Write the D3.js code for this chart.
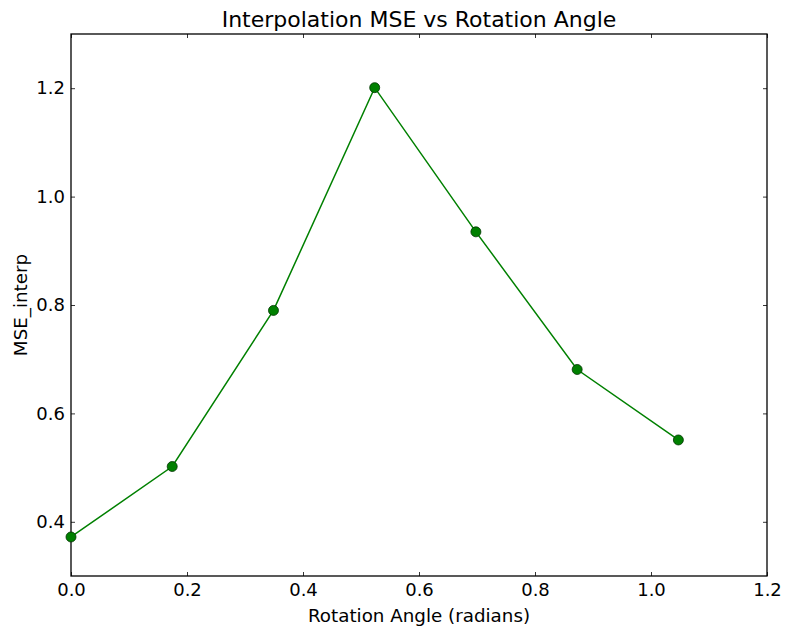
<!DOCTYPE html>
<html><head><meta charset="utf-8">
<script src="https://cdn.jsdelivr.net/npm/d3@7"></script>
<style>body{margin:0;background:#fff;} svg{display:block;}</style>
</head><body>
<svg id="c" width="785" height="631"></svg>
<script>
const angles = [0, 0.1745, 0.3491, 0.5236, 0.6981, 0.8727, 1.0472];
const mse = [0.372, 0.502, 0.790, 1.201, 0.935, 0.681, 0.551];
const xTicks = [0.0, 0.2, 0.4, 0.6, 0.8, 1.0, 1.2];
const yTicks = [0.4, 0.6, 0.8, 1.0, 1.2];

const svg = d3.select("#c");
const m = {l: 71, r: 767, t: 34, b: 576};
const x = d3.scaleLinear().domain([0, 1.2]).range([m.l, m.r]);
const y = d3.scaleLinear().domain([0.3, 1.3]).range([m.b, m.t]);
const font = "DejaVu Sans";

svg.append("rect").attr("x", m.l).attr("y", m.t).attr("width", m.r - m.l).attr("height", m.b - m.t)
  .attr("fill", "none").attr("stroke", "#000").attr("stroke-width", 1.3);

const fmt = d3.format(".1f");
const axB = d3.axisBottom(x).tickValues(xTicks).tickFormat(fmt).tickSizeInner(-4).tickSizeOuter(0).tickPadding(7);
const axT = d3.axisTop(x).tickValues(xTicks).tickFormat("").tickSizeInner(-4).tickSizeOuter(0);
const axL = d3.axisLeft(y).tickValues(yTicks).tickFormat(fmt).tickSizeInner(0).tickSizeOuter(0).tickPadding(6);
const axR = d3.axisRight(y).tickValues(yTicks).tickFormat("").tickSizeInner(-4).tickSizeOuter(0);

function style(g) {
  g.select(".domain").remove();
  g.selectAll("line").attr("stroke", "#000").attr("stroke-width", 0.8);
  g.selectAll("text").attr("font-family", font).attr("font-size", 18).attr("fill", "#000");
}
svg.append("g").attr("transform", `translate(0,${m.b})`).call(axB).call(style);
svg.append("g").attr("transform", `translate(0,${m.t})`).call(axT).call(style);
const gl = svg.append("g").attr("transform", `translate(${m.l},0)`).call(axL).call(style);
gl.selectAll(".tick line").attr("x2", 4);
svg.append("g").attr("transform", `translate(${m.r},0)`).call(axR).call(style);

const pts = angles.map((a, i) => [a, mse[i]]);
svg.append("path").datum(pts)
  .attr("d", d3.line().x(d => x(d[0])).y(d => y(d[1])))
  .attr("fill", "none").attr("stroke", "#008000").attr("stroke-width", 1.5);

svg.append("g").selectAll("circle").data(pts).join("circle")
  .attr("cx", d => x(d[0])).attr("cy", d => y(d[1])).attr("r", 5)
  .attr("fill", "#008000").attr("stroke", "#003300").attr("stroke-width", 0.8);

svg.append("text").attr("x", (m.l + m.r) / 2).attr("y", 27).attr("text-anchor", "middle")
  .attr("font-family", font).attr("font-size", 22).text("Interpolation MSE vs Rotation Angle");
svg.append("text").attr("x", (m.l + m.r) / 2).attr("y", 622).attr("text-anchor", "middle")
  .attr("font-family", font).attr("font-size", 18.3).text("Rotation Angle (radians)");
svg.append("text").attr("transform", `translate(27,${(m.t + m.b) / 2}) rotate(-90)`).attr("text-anchor", "middle")
  .attr("font-family", font).attr("font-size", 18.3).text("MSE_interp");
</script>
</body></html>
